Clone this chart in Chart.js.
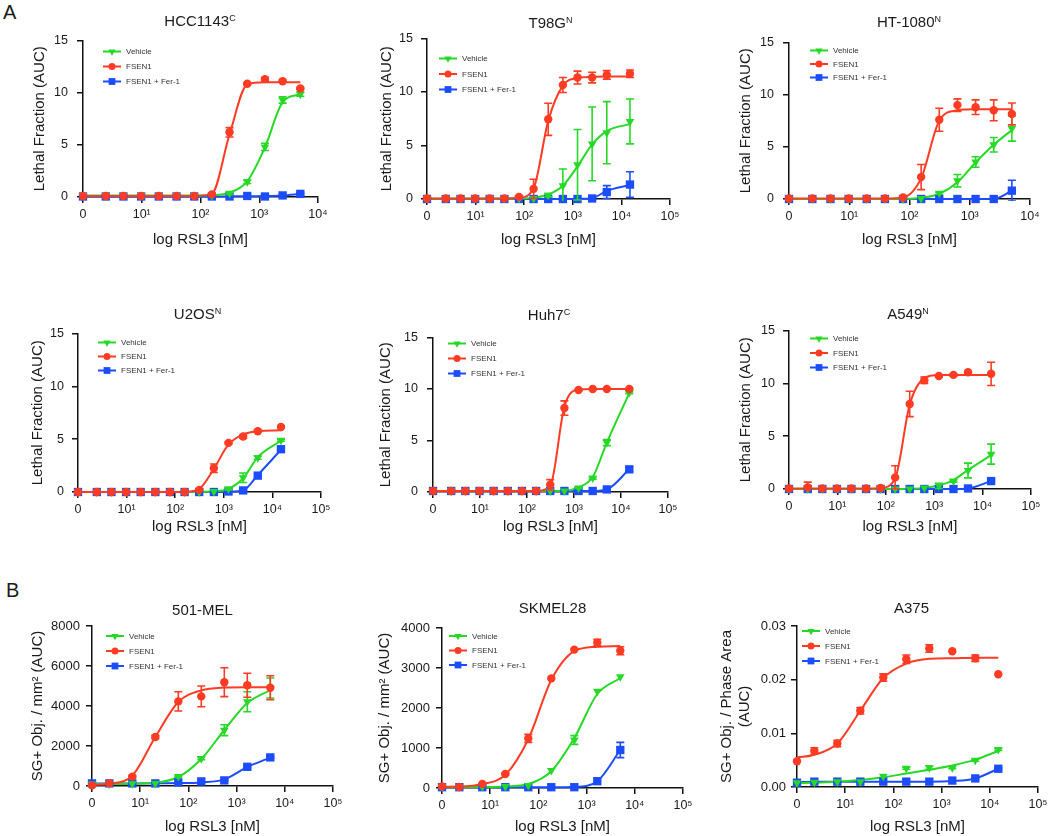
<!DOCTYPE html>
<html><head><meta charset="utf-8">
<script src="https://cdn.jsdelivr.net/npm/chart.js@4.4.1/dist/chart.umd.min.js"></script>
<style>
html,body{margin:0;padding:0;background:#fff;overflow:hidden}
#fig{position:relative;width:1050px;height:836px;font-family:'Liberation Sans',Arial,sans-serif;color:#1a1a1a;overflow:hidden}
.cv{position:absolute}
.ttl{position:absolute;font-size:15px;line-height:18px;white-space:nowrap;transform:translateX(-50%)}
.ttl sup{font-size:9px;line-height:0;vertical-align:5px}
.lab{position:absolute;font-size:20px;line-height:20px}
</style></head><body><div id="fig"></div>
<script>
// ---------- doses (nM); 0 = no RSL3, plotted at the "0" tick ----------
const dosesA = [0, 2.44, 4.88, 9.77, 19.5, 39.1, 78.1, 156, 312, 625, 1250, 2500, 5000];
const dosesB = [0, 2.44, 4.88, 9.77, 19.5, 39.1, 78.1, 156, 312, 625, 1250, 2500, 5000, 15000];
const dosesC = [0, 2.29, 6.86, 20.6, 61.7, 185, 556, 1667, 5000];
const dosesD = [0, 2.29, 6.86, 20.6, 61.7, 185, 556, 1667, 5000, 15000];

// ---------- tick values / labels ----------
const xTicks4 = [1, 10, 100, 1000, 10000];
const xLabels4 = ['0', '10¹', '10²', '10³', '10⁴'];
const xTicks5 = [1, 10, 100, 1000, 10000, 100000];
const xLabels5 = ['0', '10¹', '10²', '10³', '10⁴', '10⁵'];
const yTicks15 = [0, 5, 10, 15];
const yLabels15 = ['0', '5', '10', '15'];
const yTicks8000 = [0, 2000, 4000, 6000, 8000];
const yLabels8000 = ['0', '2000', '4000', '6000', '8000'];
const yTicks4000 = [0, 1000, 2000, 3000, 4000];
const yLabels4000 = ['0', '1000', '2000', '3000', '4000'];
const yTicks003 = [0, 0.01, 0.02, 0.03];
const yLabels003 = ['0.00', '0.01', '0.02', '0.03'];

// ---------- HCC1143 ----------
const hcc_veh      = [0.15,0.15,0.15,0.15,0.15,0.15,0.15,0.15,0.35,1.45,4.8,9.3,9.85];
const hcc_veh_sem  = [0,0,0,0,0,0,0,0,0.1,0.15,0.35,0.3,0.2];
const hcc_veh_fit  = [0.15,0.15,0.15,0.15,0.15,0.15,0.15,0.18,0.42,1.5,4.75,9.1,9.85];
const hcc_fsen     = [0.1,0.1,0.1,0.1,0.1,0.1,0.1,0.25,6.2,10.85,11.3,11.1,10.4];
const hcc_fsen_sem = [0,0,0,0,0,0,0,0.05,0.45,0.1,0.15,0.1,0.1];
const hcc_fsen_fit = [0.1,0.1,0.1,0.1,0.1,0.1,0.1,0.3,6.0,10.8,11.0,11.0,11.0];
const hcc_fer      = [0.05,0.05,0.05,0.05,0.05,0.05,0.05,0.05,0.05,0.1,0.05,0.15,0.3];
const hcc_fer_sem  = [0,0,0,0,0,0,0,0,0,0,0,0.05,0.1];
const hcc_fer_fit  = [0.05,0.05,0.05,0.05,0.05,0.05,0.05,0.05,0.06,0.07,0.09,0.15,0.3];

// ---------- T98G ----------
const t98_veh      = [0.05,0.05,0.05,0.05,0.05,0.05,0.05,0.05,0.35,1.25,3.2,5.15,6.2,7.25];
const t98_veh_sem  = [0,0,0,0,0,0,0,0,0.15,1.55,3.3,3.45,2.9,2.1];
const t98_veh_fit  = [0.02,0.02,0.02,0.02,0.02,0.03,0.05,0.12,0.42,1.24,3.05,5.1,6.35,7.0];
const t98_fsen     = [0.05,0.05,0.05,0.05,0.05,0.05,0.2,0.95,7.45,10.65,11.35,11.35,11.6,11.7];
const t98_fsen_sem = [0,0,0,0,0,0,0.1,0.9,1.5,0.7,0.6,0.5,0.4,0.35];
const t98_fsen_fit = [0.05,0.05,0.05,0.05,0.05,0.06,0.12,1.0,7.3,10.6,11.3,11.4,11.45,11.45];
const t98_fer      = [0,0,0,0,0,0,0,0,0,0,0,0.05,0.65,1.35];
const t98_fer_sem  = [0,0,0,0,0,0,0,0,0,0,0,0.05,0.6,1.2];
const t98_fer_fit  = [0,0,0,0,0,0,0,0,0,0,0.01,0.08,0.75,1.3];

// ---------- HT-1080 ----------
const ht_veh      = [0,0,0,0,0,0,0,0.05,0.55,1.75,3.55,5.2,6.75];
const ht_veh_sem  = [0,0,0,0,0,0,0,0,0.1,0.6,0.5,0.7,1.2];
const ht_veh_fit  = [0,0,0,0,0,0,0.01,0.1,0.5,1.6,3.5,5.2,6.6];
const ht_fsen     = [0.05,0.05,0.05,0.05,0.05,0.05,0.15,2.1,7.6,9.0,8.8,8.5,8.15];
const ht_fsen_sem = [0,0,0,0,0,0,0.05,1.2,1.1,0.6,0.7,1.0,1.05];
const ht_fsen_fit = [0.05,0.05,0.05,0.05,0.05,0.05,0.15,2.0,7.5,8.5,8.6,8.6,8.6];
const ht_fer      = [0,0,0,0,0,0,0,0,0,0,0,0,0.8];
const ht_fer_sem  = [0,0,0,0,0,0,0,0,0,0,0,0,1.0];
const ht_fer_fit  = [0,0,0,0,0,0,0,0,0,0,0,0,0.8];

// ---------- U2OS ----------
const u2_veh      = [0,0,0,0,0,0,0,0,0,0.05,0.3,1.35,3.25,4.9];
const u2_veh_sem  = [0,0,0,0,0,0,0,0,0,0,0.1,0.45,0.15,0.1];
const u2_veh_fit  = [0,0,0,0,0,0,0,0,0.01,0.06,0.3,1.3,3.3,4.85];
const u2_fsen     = [0,0,0,0,0,0,0,0,0.2,2.25,4.65,5.25,5.75,6.15];
const u2_fsen_sem = [0,0,0,0,0,0,0,0,0.05,0.4,0.1,0.15,0.1,0.1];
const u2_fsen_fit = [0,0,0,0,0,0,0,0.02,0.3,2.2,4.5,5.45,5.75,5.85];
const u2_fer      = [0,0,0,0,0,0,0,0,0,0,0.05,0.15,1.55,4.05];
const u2_fer_sem  = [0,0,0,0,0,0,0,0,0,0,0,0.05,0.15,0.15];
const u2_fer_fit  = [0,0,0,0,0,0,0,0,0,0,0.03,0.15,1.6,4.0];

// ---------- Huh7 ----------
const huh_veh      = [0.1,0.1,0.1,0.1,0.1,0.1,0.1,0.1,0.1,0.1,0.4,1.35,4.8,9.65];
const huh_veh_sem  = [0,0,0,0,0,0,0,0,0,0,0.05,0.1,0.3,0.1];
const huh_veh_fit  = [0.1,0.1,0.1,0.1,0.1,0.1,0.1,0.1,0.1,0.12,0.45,1.45,4.8,9.6];
const huh_fsen     = [0.1,0.1,0.1,0.1,0.1,0.1,0.1,0.1,0.7,8.15,9.9,10.0,10.0,10.0];
const huh_fsen_sem = [0,0,0,0,0,0,0,0,0.5,0.7,0.05,0.05,0.05,0.05];
const huh_fsen_fit = [0.1,0.1,0.1,0.1,0.1,0.1,0.1,0.1,0.6,8.3,9.95,10.0,10.0,10.0];
const huh_fer      = [0.1,0.1,0.1,0.1,0.1,0.1,0.1,0.1,0.1,0.1,0.1,0.1,0.25,2.2];
const huh_fer_sem  = [0,0,0,0,0,0,0,0,0,0,0,0,0.05,0.2];
const huh_fer_fit  = [0.1,0.1,0.1,0.1,0.1,0.1,0.1,0.1,0.1,0.1,0.1,0.1,0.25,2.2];

// ---------- A549 ----------
const a549_veh      = [0,0,0,0,0,0,0,0,0,0.1,0.3,0.75,1.75,3.3];
const a549_veh_sem  = [0,0,0,0,0,0,0,0,0,0,0.25,0.1,0.7,0.95];
const a549_veh_fit  = [0,0,0,0,0,0,0,0,0.02,0.1,0.35,0.85,1.8,3.2];
const a549_fsen     = [0.05,0.15,0.05,0.05,0.05,0.05,0.1,1.1,8.05,10.3,10.7,10.8,11.05,10.9];
const a549_fsen_sem = [0,0.5,0,0,0,0,0.05,1.1,1.2,0.3,0.1,0.1,0.1,1.1];
const a549_fsen_fit = [0.05,0.05,0.05,0.05,0.05,0.05,0.1,1.0,8.0,10.5,10.8,10.8,10.8,10.8];
const a549_fer      = [0,0,0,0,0,0,0,0,0,0,0,0,0.05,0.75];
const a549_fer_sem  = [0,0,0,0,0,0,0,0,0,0,0,0,0,0.1];
const a549_fer_fit  = [0,0,0,0,0,0,0,0,0,0,0,0,0.05,0.75];

// ---------- 501-MEL ----------
const mel_veh      = [100,100,110,130,470,1380,2790,4210,4900];
const mel_veh_sem  = [0,0,0,0,30,60,270,500,500];
const mel_veh_fit  = [100,100,110,160,450,1350,2800,4150,4800];
const mel_fsen     = [30,130,470,2450,4230,4480,5190,5040,4910];
const mel_fsen_sem = [0,0,50,80,480,520,720,600,600];
const mel_fsen_fit = [50,110,520,2450,4200,4780,4920,4940,4940];
const mel_fer      = [130,130,130,130,180,230,280,960,1430];
const mel_fer_sem  = [0,0,0,0,0,0,40,60,40];
const mel_fer_fit  = [130,130,130,135,145,180,330,950,1420];

// ---------- SKMEL28 ----------
const sk_veh      = [40,25,30,40,60,440,1200,2420,2780];
const sk_veh_sem  = [0,0,0,0,0,0,110,0,0];
const sk_veh_fit  = [20,20,25,40,100,420,1250,2350,2750];
const sk_fsen     = [40,25,100,350,1240,2740,3460,3635,3430];
const sk_fsen_sem = [0,0,0,20,100,0,0,80,100];
const sk_fsen_fit = [30,35,100,330,1220,2700,3420,3530,3550];
const sk_fer      = [20,20,20,20,20,20,20,170,950];
const sk_fer_sem  = [0,0,0,0,0,0,0,0,190];
const sk_fer_fit  = [20,20,20,20,20,20,25,170,950];

// ---------- A375 ----------
const a375_veh      = [0.0008,0.0009,0.001,0.001,0.002,0.0035,0.0036,0.0036,0.005,0.007];
const a375_veh_sem  = [0,0,0,0,0,0.0002,0.0003,0.0002,0.0002,0.0002];
const a375_veh_fit  = [0.0007,0.0008,0.001,0.0013,0.0018,0.0025,0.0032,0.004,0.0051,0.0067];
const a375_fsen     = [0.0048,0.0067,0.0081,0.0142,0.0204,0.0238,0.0258,0.0253,0.024,0.021];
const a375_fsen_sem = [0,0.0006,0.0006,0.0006,0.0007,0.0008,0.0007,0,0.0006,0];
const a375_fsen_fit = [0.0055,0.006,0.0081,0.0142,0.0203,0.023,0.0239,0.024,0.0241,0.0241];
const a375_fer      = [0.0008,0.001,0.001,0.001,0.001,0.001,0.001,0.0012,0.0016,0.0034];
const a375_fer_sem  = [0,0,0,0,0,0,0,0,0.0001,0.0002];
const a375_fer_fit  = [0.0009,0.001,0.001,0.001,0.001,0.001,0.001,0.0011,0.0016,0.0034];

const yTitleLF = 'Lethal Fraction (AUC)';
const yTitleSG = 'SG+ Obj. / mm² (AUC)';
const yTitlePA = ['SG+ Obj. / Phase Area', '(AUC)'];
const xTitle = 'log RSL3 [nM]';

// ---------- panel tables built from the arrays ----------
const panels = [
  {title:'HCC1143', sup:'C', doses:dosesA, xTicks:xTicks4, xLabels:xLabels4, yTicks:yTicks15, yLabels:yLabels15, yTitle:yTitleLF,
   veh:hcc_veh, vehSem:hcc_veh_sem, vehFit:hcc_veh_fit, fsen:hcc_fsen, fsenSem:hcc_fsen_sem, fsenFit:hcc_fsen_fit, fer:hcc_fer, ferSem:hcc_fer_sem, ferFit:hcc_fer_fit},
  {title:'T98G', sup:'N', doses:dosesB, xTicks:xTicks5, xLabels:xLabels5, yTicks:yTicks15, yLabels:yLabels15, yTitle:yTitleLF,
   veh:t98_veh, vehSem:t98_veh_sem, vehFit:t98_veh_fit, fsen:t98_fsen, fsenSem:t98_fsen_sem, fsenFit:t98_fsen_fit, fer:t98_fer, ferSem:t98_fer_sem, ferFit:t98_fer_fit},
  {title:'HT-1080', sup:'N', doses:dosesA, xTicks:xTicks4, xLabels:xLabels4, yTicks:yTicks15, yLabels:yLabels15, yTitle:yTitleLF,
   veh:ht_veh, vehSem:ht_veh_sem, vehFit:ht_veh_fit, fsen:ht_fsen, fsenSem:ht_fsen_sem, fsenFit:ht_fsen_fit, fer:ht_fer, ferSem:ht_fer_sem, ferFit:ht_fer_fit},
  {title:'U2OS', sup:'N', doses:dosesB, xTicks:xTicks5, xLabels:xLabels5, yTicks:yTicks15, yLabels:yLabels15, yTitle:yTitleLF,
   veh:u2_veh, vehSem:u2_veh_sem, vehFit:u2_veh_fit, fsen:u2_fsen, fsenSem:u2_fsen_sem, fsenFit:u2_fsen_fit, fer:u2_fer, ferSem:u2_fer_sem, ferFit:u2_fer_fit},
  {title:'Huh7', sup:'C', doses:dosesB, xTicks:xTicks5, xLabels:xLabels5, yTicks:yTicks15, yLabels:yLabels15, yTitle:yTitleLF,
   veh:huh_veh, vehSem:huh_veh_sem, vehFit:huh_veh_fit, fsen:huh_fsen, fsenSem:huh_fsen_sem, fsenFit:huh_fsen_fit, fer:huh_fer, ferSem:huh_fer_sem, ferFit:huh_fer_fit},
  {title:'A549', sup:'N', doses:dosesB, xTicks:xTicks5, xLabels:xLabels5, yTicks:yTicks15, yLabels:yLabels15, yTitle:yTitleLF,
   veh:a549_veh, vehSem:a549_veh_sem, vehFit:a549_veh_fit, fsen:a549_fsen, fsenSem:a549_fsen_sem, fsenFit:a549_fsen_fit, fer:a549_fer, ferSem:a549_fer_sem, ferFit:a549_fer_fit},
  {title:'501-MEL', sup:'', doses:dosesC, xTicks:xTicks5, xLabels:xLabels5, yTicks:yTicks8000, yLabels:yLabels8000, yTitle:yTitleSG,
   veh:mel_veh, vehSem:mel_veh_sem, vehFit:mel_veh_fit, fsen:mel_fsen, fsenSem:mel_fsen_sem, fsenFit:mel_fsen_fit, fer:mel_fer, ferSem:mel_fer_sem, ferFit:mel_fer_fit},
  {title:'SKMEL28', sup:'', doses:dosesC, xTicks:xTicks5, xLabels:xLabels5, yTicks:yTicks4000, yLabels:yLabels4000, yTitle:yTitleSG,
   veh:sk_veh, vehSem:sk_veh_sem, vehFit:sk_veh_fit, fsen:sk_fsen, fsenSem:sk_fsen_sem, fsenFit:sk_fsen_fit, fer:sk_fer, ferSem:sk_fer_sem, ferFit:sk_fer_fit},
  {title:'A375', sup:'', doses:dosesD, xTicks:xTicks5, xLabels:xLabels5, yTicks:yTicks003, yLabels:yLabels003, yTitle:yTitlePA,
   veh:a375_veh, vehSem:a375_veh_sem, vehFit:a375_veh_fit, fsen:a375_fsen, fsenSem:a375_fsen_sem, fsenFit:a375_fsen_fit, fer:a375_fer, ferSem:a375_fer_sem, ferFit:a375_fer_fit},
];

// ---------- layout (page pixels) ----------
const layouts = [
  {L:83, T:38, R:318, B:197, tcx:200,   tcy:20.5, ytx:40,    xty:240, lgx:20, lgy:11, lgGap:15,   ytf:12.5, ytp:9},
  {L:427,T:37, R:670, B:199, tcx:550.5, tcy:23,   ytx:387,   xty:240, lgx:12, lgy:20, lgGap:15.5, ytf:12.5, ytp:8},
  {L:789,T:40, R:1030,B:199, tcx:909,   tcy:22,   ytx:746,   xty:240, lgx:21, lgy:8,  lgGap:13.5, ytf:12.5, ytp:9},
  {L:78, T:332,R:321, B:492, tcx:197.5, tcy:314,  ytx:38,    xty:527, lgx:20, lgy:9,  lgGap:14,   ytf:12.5, ytp:8},
  {L:433,T:335,R:668, B:492, tcx:549,   tcy:315,  ytx:385.5, xty:527, lgx:15, lgy:6,  lgGap:15,   ytf:12.5, ytp:9},
  {L:789,T:329,R:1031,B:489, tcx:908,   tcy:314,  ytx:746,   xty:527, lgx:21, lgy:8,  lgGap:14.5, ytf:12.5, ytp:8},
  {L:92, T:626,R:333, B:786, tcx:202.5, tcy:610,  ytx:38,    xty:827, lgx:14, lgy:10, lgGap:15,   ytf:13,   ytp:6},
  {L:442,T:628,R:683, B:788, tcx:552.5, tcy:608,  ytx:385,   xty:827, lgx:7,  lgy:8,  lgGap:14.5, ytf:13,   ytp:6},
  {L:797,T:626,R:1038,B:787, tcx:911.5, tcy:608,  ytx:727,   xty:827, lgx:5,  lgy:5,  lgGap:15,   ytf:13,   ytp:5},
];

const FONT = "'Liberation Sans', Arial, sans-serif";
Chart.defaults.font.family = FONT;
Chart.defaults.color = '#1a1a1a';

const COL = {veh:'#26d926', fsen:'#ff3b24', fer:'#1b4dff'};
const SERIES = [
  {key:'veh',  label:'Vehicle',       style:'triangle', rot:180, r:5,   lr:4.2},
  {key:'fsen', label:'FSEN1',         style:'circle',   rot:0,   r:4.2, lr:3.5},
  {key:'fer',  label:'FSEN1 + Fer-1', style:'rect',     rot:0,   r:5.9, lr:4.8},
];
const DRAW_ORDER = {fsen:0, veh:1, fer:2};
const xOf = d => (d === 0 ? 1 : d);

const errorBars = {
  id:'errorBars',
  beforeDatasetDraw(chart, args){
    const ds = chart.data.datasets[args.index];
    if (!ds.errors) return;
    const ys = chart.scales.y, ctx = chart.ctx, ca = chart.chartArea;
    ctx.save();
    ctx.beginPath(); ctx.rect(ca.left - 10, ca.top - 10, ca.right - ca.left + 20, ca.bottom - ca.top + 12); ctx.clip();
    ctx.strokeStyle = ds.borderColor; ctx.lineWidth = 1.6;
    args.meta.data.forEach((pt, i) => {
      const e = ds.errors[i]; if (!e) return;
      const v = ds.data[i].y;
      const y1 = ys.getPixelForValue(v + e), y2 = ys.getPixelForValue(v - e);
      ctx.beginPath();
      ctx.moveTo(pt.x, y1); ctx.lineTo(pt.x, y2);
      ctx.moveTo(pt.x - 4, y1); ctx.lineTo(pt.x + 4, y1);
      ctx.moveTo(pt.x - 4, y2); ctx.lineTo(pt.x + 4, y2);
      ctx.stroke();
    });
    ctx.restore();
  }
};

const insetLegend = {
  id:'insetLegend',
  afterDatasetsDraw(chart, args, opts){
    const {ctx, chartArea} = chart;
    const items = chart.data.datasets.filter(d => d.legendItem);
    const x0 = chartArea.left + opts.dx;
    items.forEach((d, i) => {
      const y = chartArea.top + opts.dy + i * opts.gap;
      const s = d.seriesStyle;
      ctx.save();
      ctx.strokeStyle = d.borderColor; ctx.lineWidth = 2;
      ctx.beginPath(); ctx.moveTo(x0, y); ctx.lineTo(x0 + 18, y); ctx.stroke();
      ctx.fillStyle = d.backgroundColor;
      Chart.helpers.drawPoint(ctx, {pointStyle:s.style, rotation:s.rot, radius:s.lr, borderWidth:0}, x0 + 9, y);
      ctx.fillStyle = '#333';
      ctx.font = "8px " + FONT;
      ctx.textBaseline = 'middle'; ctx.textAlign = 'left';
      ctx.fillText(d.label, x0 + 23, y + 0.5);
      ctx.restore();
    });
  }
};

const fig = document.getElementById('fig');
function addDiv(cls, html, left, top){
  const d = document.createElement('div');
  d.className = cls; d.innerHTML = html;
  d.style.left = left + 'px'; d.style.top = top + 'px';
  fig.appendChild(d);
}
addDiv('lab', 'A', 3, 1.5);
addDiv('lab', 'B', 6, 580);

const YW = 80, PT = 14, PR = 24, XH = 52;
panels.forEach((p, k) => {
  const g = layouts[k];
  const cw = YW + (g.R - g.L) + PR, ch = PT + (g.B - g.T) + XH;
  const canvas = document.createElement('canvas');
  canvas.width = cw; canvas.height = ch; canvas.className = 'cv';
  canvas.style.left = (g.L - YW) + 'px'; canvas.style.top = (g.T - PT) + 'px';
  canvas.style.width = cw + 'px'; canvas.style.height = ch + 'px';
  fig.appendChild(canvas);
  addDiv('ttl', p.title + (p.sup ? '<sup>' + p.sup + '</sup>' : ''), g.tcx, g.tcy - 9);

  const datasets = [];
  SERIES.forEach(s => {
    datasets.push({
      label: s.label, legendItem: true, seriesStyle: s, errors: p[s.key + 'Sem'],
      data: p.doses.map((d, i) => ({x: xOf(d), y: p[s.key][i]})),
      showLine: false, pointStyle: s.style, pointRotation: s.rot, pointRadius: s.r, pointBorderWidth: 0,
      backgroundColor: COL[s.key], borderColor: COL[s.key], pointBackgroundColor: COL[s.key],
      order: DRAW_ORDER[s.key], clip: false
    });
  });
  SERIES.forEach(s => {
    datasets.push({
      label: s.label + ' (fit)',
      data: p.doses.map((d, i) => ({x: xOf(d), y: p[s.key + 'Fit'][i]})),
      borderColor: COL[s.key], backgroundColor: COL[s.key], borderWidth: 2, pointRadius: 0,
      cubicInterpolationMode: 'monotone', fill: false,
      order: 3 + DRAW_ORDER[s.key], clip: false
    });
  });

  const yPadTop = g.ytx - (g.L - YW) - 9;
  const xPadBottom = XH - 9 - (g.xty - g.B);
  const axisCommon = {
    grid: {display: true, drawOnChartArea: false, drawTicks: true, tickLength: 6, color: '#111', lineWidth: 1.5},
    border: {display: true, color: '#111', width: 1.5},
  };
  new Chart(canvas, {
    type: 'line',
    data: {datasets},
    options: {
      responsive: false, animation: false, devicePixelRatio: 1, events: [],
      layout: {padding: {left: 0, top: PT, right: PR, bottom: 0}},
      plugins: {legend: {display: false}, tooltip: {enabled: false}, title: {display: false},
        insetLegend: {dx: g.lgx, dy: g.lgy, gap: g.lgGap}},
      scales: {
        x: Object.assign({
          type: 'logarithmic', position: 'bottom', min: 1, max: p.xTicks[p.xTicks.length - 1],
          afterBuildTicks: sc => { sc.ticks = p.xTicks.map(v => ({value: v})); },
          afterFit: sc => { sc.height = XH; },
          ticks: {autoSkip: false, maxRotation: 0, minRotation: 0, padding: 4, font: {size: 12.5}, color: '#1a1a1a',
                  callback: (v, i) => p.xLabels[i]},
          title: {display: true, text: xTitle, font: {size: 15}, color: '#1a1a1a', padding: {top: 0, bottom: xPadBottom}}
        }, axisCommon),
        y: Object.assign({
          type: 'linear', position: 'left', min: 0, max: p.yTicks[p.yTicks.length - 1],
          afterBuildTicks: sc => { sc.ticks = p.yTicks.map(v => ({value: v})); },
          afterFit: sc => { sc.width = YW; },
          ticks: {padding: g.ytp, font: {size: g.ytf}, color: '#1a1a1a', callback: (v, i) => p.yLabels[i]},
          title: {display: true, text: p.yTitle, font: {size: 15}, color: '#1a1a1a', padding: {top: yPadTop, bottom: 0}}
        }, axisCommon)
      }
    },
    plugins: [errorBars, insetLegend]
  });
});
</script></body></html>
